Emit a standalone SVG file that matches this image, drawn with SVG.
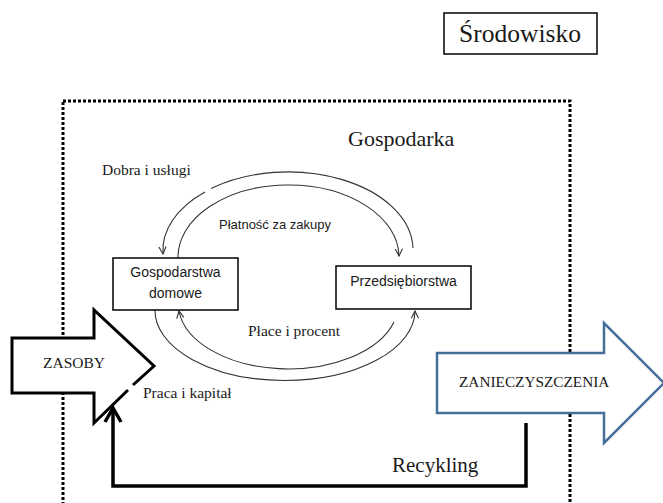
<svg xmlns="http://www.w3.org/2000/svg" width="663" height="503" viewBox="0 0 663 503">
<defs>
<style>
.serif{font-family:"Liberation Serif","Times New Roman",serif;fill:#1a1a1a}
.sans{font-family:"Liberation Sans",Arial,sans-serif;fill:#1a1a1a}
.box{fill:#fff;stroke:#000;stroke-width:1.5}
.flow{fill:none;stroke:#333;stroke-width:1.1}
</style>
<marker id="chev" viewBox="0 0 10 10" refX="9" refY="5" markerWidth="9" markerHeight="9" markerUnits="userSpaceOnUse" orient="auto">
<path d="M1,1 L9,5 L1,9" fill="none" stroke="#333" stroke-width="1.2"/>
</marker>
</defs>
<rect width="663" height="503" fill="#fff"/>

<g id="srodowisko">
<rect x="444" y="13" width="153" height="41" fill="#fff" stroke="#000" stroke-width="1.5"/>
<text class="serif" x="520" y="42" font-size="25.5" text-anchor="middle">Środowisko</text>
</g>

<g id="gospodarka">
<rect x="63" y="101" width="507" height="405" fill="none" stroke="#000" stroke-width="3" stroke-dasharray="3 2"/>
<text class="serif" x="348" y="146" font-size="22">Gospodarka</text>
</g>

<g id="connectors">
<path class="flow" d="M413,248 A125 78 0 0 0 211,188.5"/>
<path class="flow" d="M205,192 A125 78 0 0 0 163,254" marker-end="url(#chev)"/>
<path class="flow" d="M178,258 A110.5 72 0 0 1 399,256" marker-end="url(#chev)"/>
<path class="flow" d="M155,310 A130 70 0 0 0 415,311" marker-end="url(#chev)"/>
<path class="flow" d="M394,322 A110 65 0 0 1 179,311" marker-end="url(#chev)"/>
<path d="M526,423 L526,486 L113,486 L113,409" fill="none" stroke="#000" stroke-width="3.5"/>
<path d="M105,422 L113,408 L121,422" fill="none" stroke="#000" stroke-width="3.5" stroke-linejoin="miter"/>
</g>

<g id="labels">
<text class="serif" x="102" y="175" font-size="15.5">Dobra i usługi</text>
<text class="sans" x="219" y="229" font-size="13">Płatność za zakupy</text>
<text class="serif" x="248" y="336" font-size="15.5">Płace i procent</text>
<text class="serif" x="143" y="398" font-size="15.5">Praca i kapitał</text>
<text class="serif" x="392" y="472" font-size="21">Recykling</text>
</g>

<g id="gospodarstwa">
<rect class="box" x="113" y="258" width="125" height="52"/>
<text class="sans" x="175.5" y="277" font-size="14" text-anchor="middle">Gospodarstwa</text>
<text class="sans" x="175.5" y="298" font-size="14" text-anchor="middle">domowe</text>
</g>

<g id="przedsiebiorstwa">
<rect class="box" x="336" y="266" width="135" height="43"/>
<text class="sans" x="403.5" y="286" font-size="14" text-anchor="middle">Przedsiębiorstwa</text>
</g>

<g id="zasoby">
<polygon points="12,338 94,338 94,310 154,366 94,423 94,393 12,393" fill="#fff"/>
<path d="M128,390 L94,423 L94,393 L12,393 L12,338 L94,338 L94,310 L154,366 L133,385" fill="none" stroke="#000" stroke-width="3" stroke-linejoin="miter"/>
<text class="serif" x="43" y="368" font-size="15.5">ZASOBY</text>
</g>

<g id="zanieczyszczenia">
<polygon points="437,353 604,353 604,323 664,383 604,443 604,413 437,413" fill="#fff" stroke="#456f9a" stroke-width="2.5"/>
<text class="serif" x="459" y="387" font-size="15.3">ZANIECZYSZCZENIA</text>
</g>
</svg>
